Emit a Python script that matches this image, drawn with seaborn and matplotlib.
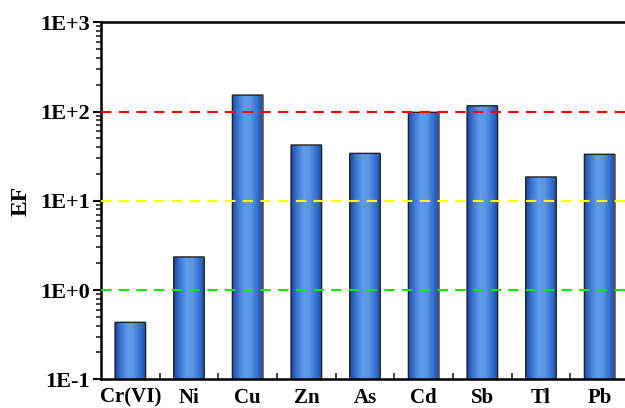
import numpy as np
import pandas as pd
import matplotlib
matplotlib.use("Agg")
import matplotlib.pyplot as plt
import matplotlib.ticker as mticker
from matplotlib.colors import LinearSegmentedColormap
import seaborn as sns

elements = ["Cr(VI)", "Ni", "Cu", "Zn", "As", "Cd", "Sb", "Tl", "Pb"]
ef_values = [0.435, 2.35, 153, 42.2, 34.0, 98, 116, 18.5, 33.2]
ytick_vals = [0.1, 1, 10, 100, 1000]
ytick_labels = ["1E-1", "1E+0", "1E+1", "1E+2", "1E+3"]
thresholds = [1, 10, 100]
threshold_colors = ["#00ee00", "#ffff00", "#ff0000"]

df = pd.DataFrame({"element": elements, "EF": ef_values})

sns.set_theme(style="white")
plt.rcParams["font.family"] = ["Liberation Serif", "DejaVu Serif"]
plt.rcParams["font.weight"] = "bold"

fig = plt.figure(figsize=(6.25, 4.08), dpi=100)
ax = fig.add_axes([101 / 625, (408 - 379.3) / 408, 528 / 625, (379.3 - 22.3) / 408])

sns.barplot(data=df, x="element", y="EF", ax=ax, width=0.52,
            color="#3c78d8", edgecolor="#222222", linewidth=1.0, log_scale=(False, True))
ax.set_yscale("log")
ax.set_ylim(0.1, 1000)
ax.set_xlim(-0.5, 8.5)

# cylinder-like gradient on bars
cmap = LinearSegmentedColormap.from_list(
    "cyl", ["#1b4ea6", "#3f7ad6", "#5f9be9", "#5a95e4", "#3a72cf", "#1b4ea6"])
grad = np.linspace(0, 1, 256).reshape(1, -1)
for p in ax.patches:
    p.set_snap(False)
    x0, y0 = p.get_x(), p.get_y()
    w, h = p.get_width(), p.get_height()
    y_low = max(y0, 0.1)
    im = ax.imshow(grad, cmap=cmap, aspect="auto",
                   extent=[x0, x0 + w, y_low, y0 + h],
                   zorder=p.get_zorder(), interpolation="bilinear")
    im.set_clip_path(p)
    p.set_facecolor("none")
    p.set_zorder(p.get_zorder() + 0.5)
ax.set_xlim(-0.5, 8.5)
ax.set_ylim(0.1, 1000)

for t, c in zip(thresholds, threshold_colors):
    ax.axhline(t, color=c, linestyle=(0, (5, 3.5)), linewidth=1.5, zorder=5)

ax.yaxis.set_major_locator(mticker.FixedLocator(ytick_vals))
ax.yaxis.set_major_formatter(mticker.FixedFormatter(ytick_labels))
ax.yaxis.set_minor_locator(mticker.LogLocator(base=10, subs=np.arange(2, 10)))
ax.yaxis.set_minor_formatter(mticker.NullFormatter())
ax.tick_params(axis="y", which="major", direction="out", length=6, width=1.5,
               labelsize=16, pad=2, left=True, colors="black")
ax.tick_params(axis="y", which="minor", direction="out", length=3.5, width=1.2, left=True)

ax.xaxis.set_minor_locator(mticker.FixedLocator(np.arange(0.5, 8.5, 1.0)))
ax.tick_params(axis="x", which="major", length=0, labelsize=15, pad=6)
ax.tick_params(axis="x", which="minor", direction="in", length=4, width=1.2, bottom=True)

for lbl in ax.get_xticklabels() + ax.get_yticklabels():
    lbl.set_fontweight("bold")
    lbl.set_color("black")

ax.set_xlabel("")
ax.set_ylabel("EF", fontsize=17, fontweight="bold", labelpad=6, color="black")

for side in ["left", "bottom", "top"]:
    ax.spines[side].set_visible(True)
    ax.spines[side].set_color("black")
    ax.spines[side].set_linewidth(1.8)
ax.spines["right"].set_visible(False)
ax.grid(False)

fig.savefig("out.png", dpi=100)
